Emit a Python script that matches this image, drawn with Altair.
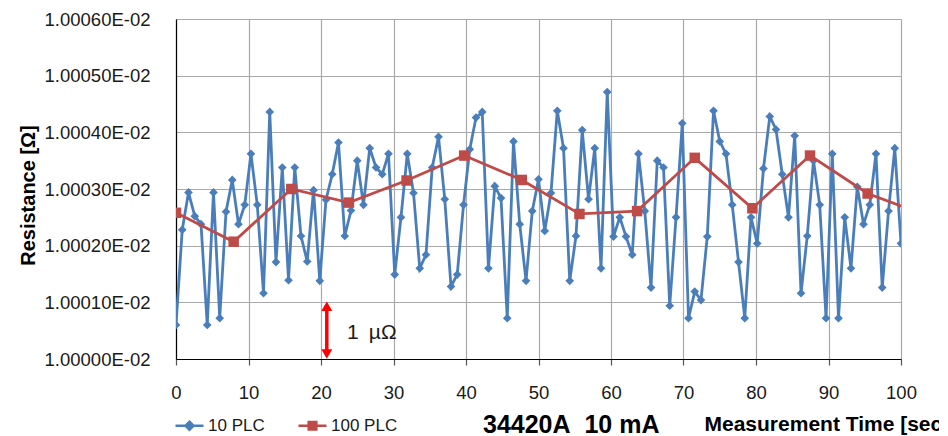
import altair as alt
import pandas as pd

# ---------------- data ----------------
# Measurement time [s] of the 10 PLC readings
t_10plc = [0.00, 0.86, 1.72, 2.59, 3.45, 4.31, 5.17, 6.03, 6.90, 7.76,
           8.62, 9.48, 10.34, 11.21, 12.07, 12.93, 13.79, 14.66, 15.52, 16.38,
           17.24, 18.10, 18.97, 19.83, 20.69, 21.55, 22.41, 23.28, 24.14, 25.00,
           25.86, 26.72, 27.59, 28.45, 29.31, 30.17, 31.03, 31.90, 32.76, 33.62,
           34.48, 35.34, 36.21, 37.07, 37.93, 38.79, 39.66, 40.52, 41.38, 42.24,
           43.10, 43.97, 44.83, 45.69, 46.55, 47.41, 48.28, 49.14, 50.00, 50.86,
           51.72, 52.59, 53.45, 54.31, 55.17, 56.03, 56.90, 57.76, 58.62, 59.48,
           60.34, 61.21, 62.07, 62.93, 63.79, 64.66, 65.52, 66.38, 67.24, 68.10,
           68.97, 69.83, 70.69, 71.55, 72.41, 73.28, 74.14, 75.00, 75.86, 76.72,
           77.59, 78.45, 79.31, 80.17, 81.03, 81.90, 82.76, 83.62, 84.48, 85.34,
           86.21, 87.07, 87.93, 88.79, 89.66, 90.52, 91.38, 92.24, 93.10, 93.97,
           94.83, 95.69, 96.55, 97.41, 98.28, 99.14, 100.00]
# Readings as offset above 1.00000E-02 ohm, in units of 1e-7 ohm (0.1 uOhm)
r_10plc = [6.0, 22.8, 29.4, 25.2, 23.8, 6.0, 29.4, 7.2, 26.0, 31.6,
           23.8, 27.2, 36.2, 27.2, 11.6, 43.6, 17.1, 33.8, 13.9, 33.8,
           21.7, 17.2, 29.8, 13.8, 28.1, 32.6, 38.2, 21.7, 26.2, 35.0,
           27.2, 37.2, 33.8, 32.6, 36.2, 14.9, 25.0, 36.2, 29.3, 16.0,
           18.4, 33.8, 39.2, 28.2, 12.8, 14.9, 27.2, 37.0, 42.6, 43.6,
           16.0, 30.5, 28.4, 7.2, 38.4, 23.8, 13.8, 26.1, 31.7, 22.6,
           29.3, 43.8, 37.2, 13.8, 21.7, 40.4, 28.2, 37.2, 16.0, 47.1,
           21.6, 25.0, 21.6, 18.4, 36.2, 26.1, 12.6, 35.0, 33.8, 9.4,
           25.0, 41.6, 7.2, 11.9, 10.4, 21.6, 43.8, 38.4, 36.2, 27.2,
           17.1, 7.2, 25.0, 20.4, 33.6, 42.8, 40.5, 32.6, 25.0, 39.4,
           11.6, 21.7, 35.0, 27.2, 7.2, 36.2, 7.2, 25.0, 16.0, 30.4,
           23.8, 27.2, 36.2, 12.6, 26.1, 37.2, 20.4]
t_100plc = [0.00, 7.95, 15.90, 23.85, 31.80, 39.75, 47.70, 55.65, 63.60,
            71.55, 79.50, 87.45, 95.40, 103.35]
r_100plc = [25.8, 20.7, 30.0, 27.6, 31.5, 35.9, 31.6, 25.6, 26.1,
            35.5, 26.6, 35.9, 29.2, 25.4]

series_names = ["10 PLC", "100 PLC"]
series_colors = ["#4A7EBB", "#BE4B48"]
x_ticks = [0, 10, 20, 30, 40, 50, 60, 70, 80, 90, 100]
y_ticks = [0, 10, 20, 30, 40, 50, 60]

# 1 uOhm marker (arrow spans one grid step)
arrow_t = [20.8]
arrow_lo = [1.6]
arrow_hi = [8.6]
arrow_tip_lo = [0.9]
arrow_tip_hi = [9.3]
note_t = [23.6]
note_r = [4.6]
note_text = ["1\u2009 µΩ"]

# ---------------- build ----------------
FONT = "Liberation Sans, Arial"
BLUE, RED = series_colors
GRID = "#a9a9a9"

df10 = pd.DataFrame({"t": t_10plc, "r": r_10plc, "series": series_names[0]})
df100 = pd.DataFrame({"t": t_100plc, "r": r_100plc, "series": series_names[1]})
dflegend = pd.DataFrame({"t": [50, 50], "r": [30, 30], "series": series_names})
dfarrow = pd.DataFrame({"t": arrow_t, "lo": arrow_lo, "hi": arrow_hi,
                        "tlo": arrow_tip_lo, "thi": arrow_tip_hi})
dfnote = pd.DataFrame({"t": note_t, "r": note_r, "text": note_text})

xs = alt.Scale(domain=[0, 100], nice=False, zero=False)
ys = alt.Scale(domain=[0, 60], nice=False, zero=False)

x_axis = alt.Axis(values=x_ticks, grid=True, gridColor=GRID, gridWidth=1.2,
                  domainColor="#000000", domainWidth=1.2,
                  tickColor="#555555", tickSize=6, tickWidth=1.2,
                  labelFont=FONT, labelFontSize=18.5, labelColor="#1a1a1a",
                  labelPadding=18, labelFlush=False,
                  title="Measurement Time [sec]", titleFont=FONT, titleFontSize=21,
                  titleFontWeight="bold", titleColor="#000000",
                  titleX=528, titleY=65, titleAlign="left", titleBaseline="middle",
                  titleAngle=0)
y_axis = alt.Axis(values=y_ticks, grid=True, gridColor=GRID, gridWidth=1.2,
                  domainColor="#000000", domainWidth=1.2, ticks=False, tickSize=0,
                  labelFont=FONT, labelFontSize=18.5, labelColor="#1a1a1a",
                  labelPadding=26, labelFlush=False,
                  labelExpr="format(1 + datum.value / 100000, '.5f') + 'E-02'",
                  title="Resistance [Ω]", titleFont=FONT, titleFontSize=20,
                  titleFontWeight="bold", titleColor="#000000",
                  titleX=-148, titleY=176, titleAngle=270,
                  titleAlign="center", titleBaseline="middle")

X = alt.X("t:Q", scale=xs, axis=x_axis)
Y = alt.Y("r:Q", scale=ys, axis=y_axis)

line10 = alt.Chart(df10).mark_line(color=BLUE, strokeWidth=2.8, clip=True).encode(x=X, y=Y)
pts10 = alt.Chart(df10).mark_point(shape="diamond", filled=True, size=75, color=BLUE,
                                   opacity=1, clip=True).encode(x=X, y=Y)
line100 = alt.Chart(df100).mark_line(color=RED, strokeWidth=2.8, clip=True).encode(x=X, y=Y)
pts100 = alt.Chart(df100).mark_point(shape="square", filled=True, size=110, color=RED,
                                     opacity=1, clip=True).encode(x=X, y=Y)

legend = alt.Legend(orient="none", legendX=-2, legendY=391, direction="horizontal",
                    title=None, labelFont=FONT, labelFontSize=17, labelColor="#1a1a1a",
                    symbolSize=784, symbolStrokeWidth=2.6, symbolOpacity=1,
                    labelOffset=3, columnPadding=28, padding=0)
sym_paths = ["M-1,0L1,0M0,-0.28L0.28,0L0,0.28L-0.28,0Z",
             "M-1,0L1,0M-0.27,-0.27L0.27,-0.27L0.27,0.27L-0.27,0.27Z"]
leg = alt.Chart(dflegend).mark_point(opacity=0, filled=True).encode(
    x=X, y=Y,
    fill=alt.Fill("series:N", scale=alt.Scale(domain=series_names, range=series_colors), legend=legend),
    stroke=alt.Stroke("series:N", scale=alt.Scale(domain=series_names, range=series_colors), legend=legend),
    shape=alt.Shape("series:N", scale=alt.Scale(domain=series_names, range=sym_paths), legend=legend),
)

arrow_shaft = alt.Chart(dfarrow).mark_rule(color="#ff0000", strokeWidth=3.5).encode(
    x="t:Q", y="lo:Q", y2="hi:Q")
arrow_up = alt.Chart(dfarrow).mark_point(shape="triangle-up", filled=True, size=120,
                                         color="#ff0000", opacity=1).encode(x="t:Q", y="thi:Q")
arrow_dn = alt.Chart(dfarrow).mark_point(shape="triangle-down", filled=True, size=120,
                                         color="#ff0000", opacity=1).encode(x="t:Q", y="tlo:Q")
note = alt.Chart(dfnote).mark_text(font=FONT, fontSize=21, align="left", baseline="middle",
                                   color="#1a1a1a").encode(x="t:Q", y="r:Q", text="text:N")

chart = alt.layer(leg, line10, pts10, line100, pts100, arrow_shaft, arrow_up, arrow_dn, note).properties(
    width=725, height=340,
    padding={"left": 168, "top": 11, "right": 38, "bottom": 77},
    autosize=alt.AutoSizeParams(type="none"),
    background="#ffffff",
    title=alt.TitleParams("34420A\u00a0 10 mA", font=FONT, fontSize=25, fontWeight="bold",
                          color="#000000", anchor="start", frame="group", orient="top",
                          dx=307, dy=440, baseline="middle", offset=0),
).configure_view(stroke=None)

chart.save("out.html", embed_options={"renderer": "svg", "actions": False})
